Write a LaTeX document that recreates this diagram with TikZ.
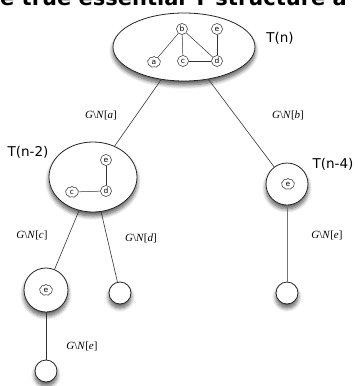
\documentclass[tikz,border=0pt]{standalone}
\usepackage{fontspec}
\setmainfont{Liberation Serif}
\newfontfamily\dejavu{DejaVu Sans}
\usetikzlibrary{shapes.geometric,shapes.symbols,shadows.blur}
\tikzset{
  shad/.style={blur shadow={shadow xshift=0pt, shadow yshift=-4pt, shadow blur steps=8, shadow opacity=65, shadow blur radius=4pt}},
  big/.style={ellipse, draw=black!85, line width=0.8pt, fill=white, inner sep=0pt, shad},
  roundbox/.style={circle, draw=black!85, line width=0.8pt, fill=white, inner sep=0pt, shad},
  vert/.style={circle, draw=black!85, line width=0.5pt, fill=white, inner sep=0pt, minimum size=11pt, font=\dejavu\fontsize{7.5}{7.5}\selectfont},
  cloudv/.style={cloud, cloud puffs=9, cloud puff arc=110, aspect=1.2, draw=black!85, line width=0.5pt, fill=white, inner sep=0.3pt, minimum width=13pt, minimum height=11pt, font=\dejavu\fontsize{7.5}{7.5}\selectfont},
  edge/.style={draw=black!80, line width=0.6pt},
  gedge/.style={draw=black!80, line width=0.5pt},
  lab/.style={inner sep=0pt, font=\fontsize{11}{11}\selectfont},
  tlab/.style={inner sep=0pt, font=\dejavu\fontsize{13.5}{13.5}\selectfont}
}
\begin{document}
\begin{tikzpicture}[x=1pt,y=-1pt]
\useasboundingbox (0,0) rectangle (357,386);
\begin{scope}
\clip (0,0) rectangle (357,386);
\node[anchor=base west, inner sep=0pt, font=\dejavu\bfseries\fontsize{21}{21}\selectfont] (title) at (0,5) {e true essential Y structure a};
\end{scope}

% tree nodes
\node[big, minimum width=142pt, minimum height=68pt] (top) at (184,47) {};
\node[big, minimum width=88pt, minimum height=70pt] (n2) at (93,177) {};
\node[roundbox, minimum size=42pt] (n4) at (287,184) {};
\node[roundbox, minimum size=44pt] (c1) at (46,290) {};
\node[roundbox, minimum size=22pt] (d1) at (120,293) {};
\node[roundbox, minimum size=22pt] (e1) at (287,293) {};
\node[roundbox, minimum size=22pt] (f1) at (46,371) {};

% tree edges
\draw[edge] (top) -- (n2);
\draw[edge] (top) -- (n4);
\draw[edge] (n2) -- (c1);
\draw[edge] (n2) -- (d1);
\draw[edge, draw=black!55, line width=0.8pt] (n4) -- (e1);
\draw[edge] (c1) -- (f1);

% graph in T(n)
\node[vert] (b) at (182,29) {b};
\node[vert] (e) at (217,29) {e};
\node[cloudv] (a) at (154,62) {a};
\node[vert] (c) at (183,61) {c};
\node[vert] (d) at (217,61) {d};
\draw[gedge] (a) -- (b);
\draw[gedge] (b) -- (c);
\draw[gedge] (b) -- (d);
\draw[gedge] (c) -- (d);
\draw[gedge] (e) -- (d);

% graph in T(n-2)
\node[vert] (e2) at (106,160) {e};
\node[vert] (d2) at (106,191) {d};
\node[cloudv] (c2) at (72,192) {c};
\draw[gedge] (c2) -- (d2);
\draw[gedge] (e2) -- (d2);

% clouds in circles
\node[cloudv] (e4) at (288,184) {e};
\node[cloudv] (ec) at (46,290) {e};

% labels
\node[tlab] (tn) at (280,38) {T(n)};
\node[tlab] (tn2) at (28,152) {T(n-2)};
\node[tlab] (tn4) at (333,164) {T(n-4)};

\node[lab] (la) at (101,115) {\textit{G}\textbackslash\textit{N}[\textit{a}]};
\node[lab] (lb) at (288,115) {\textit{G}\textbackslash\textit{N}[\textit{b}]};
\node[lab] (lc) at (32,235) {\textit{G}\textbackslash\textit{N}[\textit{c}]};
\node[lab] (ld) at (141,238) {\textit{G}\textbackslash\textit{N}[\textit{d}]};
\node[lab] (le) at (327,235) {\textit{G}\textbackslash\textit{N}[\textit{e}]};
\node[lab] (le2) at (82,346) {\textit{G}\textbackslash\textit{N}[\textit{e}]};
\end{tikzpicture}
\end{document}
